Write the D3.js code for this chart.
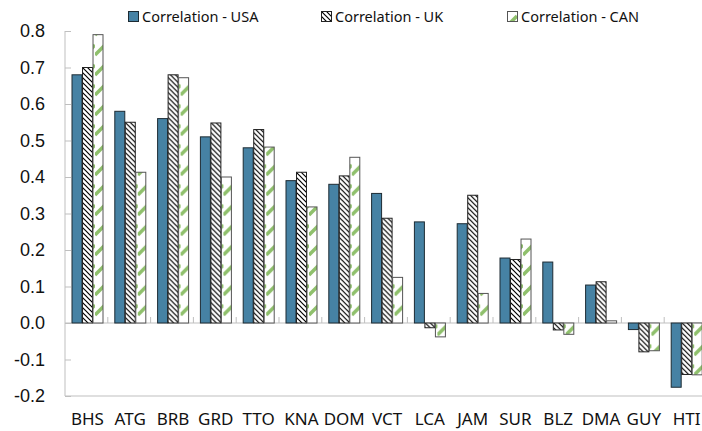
<!DOCTYPE html>
<html>
<head>
<meta charset="utf-8">
<script src="https://cdn.jsdelivr.net/npm/d3@7"></script>
<style>
  html, body { margin: 0; padding: 0; background: #fff; }
  svg { display: block; font-family: "Noto Sans", "Open Sans", sans-serif; }
</style>
</head>
<body>
<svg id="chart" width="702" height="431"></svg>
<script>
// Country codes along the x axis
const categories = ["BHS", "ATG", "BRB", "GRD", "TTO", "KNA", "DOM", "VCT", "LCA", "JAM", "SUR", "BLZ", "DMA", "GUY", "HTI"];

// Correlation with each partner economy
const usa = [0.68, 0.58, 0.56, 0.51, 0.48, 0.39, 0.38, 0.355, 0.277, 0.272, 0.178, 0.167, 0.104, -0.018, -0.176];
const uk  = [0.70, 0.55, 0.68, 0.548, 0.53, 0.413, 0.403, 0.287, -0.013, 0.35, 0.174, -0.019, 0.113, -0.079, -0.141];
const can = [0.79, 0.413, 0.672, 0.40, 0.482, 0.318, 0.454, 0.125, -0.038, 0.081, 0.23, -0.031, 0.006, -0.076, -0.142];

const seriesNames = ["Correlation - USA", "Correlation - UK", "Correlation - CAN"];
const seriesValues = [usa, uk, can];

const yTicks = [-0.2, -0.1, 0.0, 0.1, 0.2, 0.3, 0.4, 0.5, 0.6, 0.7, 0.8];

const svg = d3.select("#chart");
const plotLeft = 65, plotRight = 707, plotTop = 31, plotBottom = 396;

// Fill patterns for the hatched series
const defs = svg.append("defs");
const hatch = defs.append("pattern")
  .attr("id", "hatch-uk").attr("patternUnits", "userSpaceOnUse")
  .attr("width", 5).attr("height", 5);
hatch.append("rect").attr("width", 5).attr("height", 5).attr("fill", "#fff");
hatch.append("path")
  .attr("d", "M-1,-1 L6,6 M-1,4 L1,6 M4,-1 L6,1")
  .attr("stroke", "#000").attr("stroke-width", 1.2);

const stripe = defs.append("pattern")
  .attr("id", "stripe-can").attr("patternUnits", "userSpaceOnUse")
  .attr("width", 10).attr("height", 20);
stripe.append("rect").attr("width", 10).attr("height", 20).attr("fill", "#fff");
stripe.append("path")
  .attr("d", "M0,15 L10,5")
  .attr("stroke", "#8fc06c").attr("stroke-width", 3.5);

const fills = ["#4682a4", "url(#hatch-uk)", "url(#stripe-can)"];
const strokes = ["#1d2b33", "#222", "#555"];

const x0 = d3.scaleBand().domain(categories).range([plotLeft, plotRight]).padding(0);
const x1 = d3.scaleBand().domain(d3.range(3)).range([7, 38]).paddingInner(0.05);
const y = d3.scaleLinear().domain([-0.2, 0.8]).range([plotBottom, plotTop]);

const grey = "#bfbfbf";

// Value axis
const yAxis = svg.append("g").attr("transform", `translate(${plotLeft},0)`)
  .call(d3.axisRight(y).tickValues(yTicks).tickSize(6).tickFormat(d3.format(".1f")));
yAxis.select(".domain").attr("stroke", grey).attr("d", `M0,${plotTop}V${plotBottom}`);
yAxis.selectAll(".tick line").attr("stroke", grey);
yAxis.selectAll(".tick text")
  .attr("x", -20).attr("text-anchor", "end")
  .attr("font-size", 18).attr("fill", "#111")
  .text(d => d3.format(".1f")(d).replace("−", "-"));

// Bottom frame line
svg.append("line")
  .attr("x1", plotLeft).attr("x2", plotRight).attr("y1", plotBottom).attr("y2", plotBottom)
  .attr("stroke", grey);

// Zero line with category boundary ticks
svg.append("line")
  .attr("x1", plotLeft).attr("x2", plotRight).attr("y1", y(0)).attr("y2", y(0))
  .attr("stroke", grey);
svg.append("g").selectAll("line")
  .data(categories.slice(1))
  .join("line")
  .attr("x1", d => x0(d)).attr("x2", d => x0(d))
  .attr("y1", y(0)).attr("y2", y(0) - 6)
  .attr("stroke", grey);

// Bars
const groups = svg.append("g").selectAll("g")
  .data(categories)
  .join("g")
  .attr("transform", d => `translate(${x0(d)},0)`);

groups.selectAll("rect")
  .data((d, i) => seriesValues.map((vals, s) => ({ s, v: vals[i] })))
  .join("rect")
  .attr("x", d => x1(d.s))
  .attr("width", x1.bandwidth())
  .attr("y", d => y(Math.max(0, d.v)))
  .attr("height", d => Math.abs(y(d.v) - y(0)))
  .attr("fill", d => fills[d.s])
  .attr("stroke", d => strokes[d.s])
  .attr("stroke-width", 1);

// Category labels
svg.append("g").selectAll("text")
  .data(categories)
  .join("text")
  .attr("x", d => x0(d) + x0.bandwidth() / 2 + 1)
  .attr("y", 425)
  .attr("text-anchor", "middle")
  .attr("font-size", 17)
  .attr("fill", "#111")
  .text(d => d);

// Legend
const legendX = [128, 321, 507];
const legend = svg.append("g").selectAll("g")
  .data(seriesNames)
  .join("g")
  .attr("transform", (d, i) => `translate(${legendX[i]},11)`);
legend.append("rect")
  .attr("x", 0.5).attr("y", 0.5).attr("width", 10).attr("height", 10)
  .attr("fill", (d, i) => fills[i])
  .attr("stroke", (d, i) => strokes[i]);
legend.append("text")
  .attr("x", 14).attr("y", 10.5)
  .attr("font-size", 14.5).attr("fill", "#111")
  .text(d => d);
</script>
</body>
</html>
